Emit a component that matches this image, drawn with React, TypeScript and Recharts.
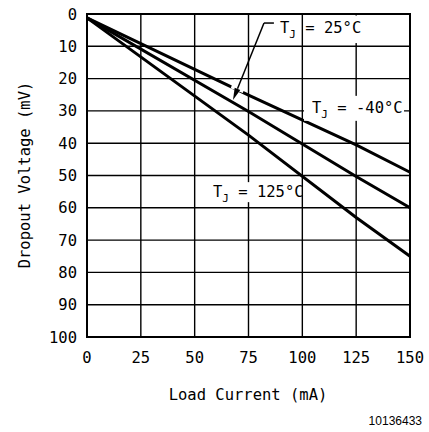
import React from 'react';
import {
  LineChart,
  Line,
  XAxis,
  YAxis,
  CartesianGrid,
  ReferenceArea,
  ReferenceLine,
  ReferenceDot,
} from 'recharts';

// load current (mA) where the curves were read
const current = [0, 75, 125, 150];
// dropout voltage (mV) per junction temperature
const vMinus40 = [1.2, 25.1, 40.5, 49];
const v25 = [1.2, 30.2, 50.3, 60];
const v125 = [1.2, 37.5, 63, 75];

const xTicks = [0, 25, 50, 75, 100, 125, 150];
const yTicks = [0, 10, 20, 30, 40, 50, 60, 70, 80, 90, 100];

const data = current.map((c, i) => ({
  current: c,
  m40: vMinus40[i],
  t25: v25[i],
  t125: v125[i],
}));

const FONT = '"DejaVu Sans Mono", monospace';
const INK = '#000';

// box = white backing [dx0, dy0, dx1, dy1] relative to the text anchor
const TempLabel = ({ cx, cy, temp, box }: any) => (
  <g>
    <rect x={cx + box[0]} y={cy + box[1]} width={box[2] - box[0]} height={box[3] - box[1]} fill="#fff" />
    <text x={cx} y={cy} fontFamily={FONT} fontSize={15.5} fill={INK}>
      T
      <tspan dy={5} fontSize={11}>J</tspan>
      <tspan dy={-5}>{` = ${temp}°C`}</tspan>
    </text>
  </g>
);

const Arrow = ({ x1, y1, x2, y2 }: any) => {
  const dx = x2 - x1;
  const dy = y2 - y1;
  const len = Math.sqrt(dx * dx + dy * dy) || 1;
  const ux = dx / len;
  const uy = dy / len;
  const head = 12;
  const bx = x2 - ux * head;
  const by = y2 - uy * head;
  const px = -uy * 3;
  const py = ux * 3;
  const a = 0.76;
  const b = 0.88;
  return (
    <g>
      <line
        x1={x1 + dx * a}
        y1={y1 + dy * a}
        x2={x1 + dx * b}
        y2={y1 + dy * b}
        stroke="#fff"
        strokeWidth={13}
      />
      <line x1={x1} y1={y1} x2={bx} y2={by} stroke={INK} strokeWidth={1.5} />
      <polygon
        points={`${x2},${y2} ${bx + px},${by + py} ${bx - px},${by - py}`}
        fill={INK}
      />
    </g>
  );
};

export default function App() {
  return (
    <div style={{ position: 'fixed', left: 0, top: 0, width: 429, height: 432, background: '#fff' }}>
      <LineChart
        width={429}
        height={432}
        data={data}
        margin={{ top: 14, right: 19, bottom: 65, left: 27 }}
      >
        <CartesianGrid stroke={INK} strokeWidth={1.4} strokeOpacity={1} />
        <XAxis
          dataKey="current"
          type="number"
          domain={[0, 150]}
          ticks={xTicks}
          tickLine={false}
          axisLine={false}
          tickMargin={9}
          interval={0}
          tick={{ fill: INK, fontFamily: FONT, fontSize: 15.5 }}
        />
        <YAxis
          type="number"
          domain={[0, 100]}
          reversed
          ticks={yTicks}
          width={60}
          tickLine={false}
          axisLine={false}
          tickMargin={4}
          interval={0}
          tick={{ fill: INK, fontFamily: FONT, fontSize: 15.5 }}
        />
        <Line dataKey="m40" stroke={INK} strokeWidth={3} dot={false} isAnimationActive={false} />
        <Line dataKey="t25" stroke={INK} strokeWidth={3} dot={false} isAnimationActive={false} />
        <Line dataKey="t125" stroke={INK} strokeWidth={3} dot={false} isAnimationActive={false} />
        <ReferenceLine
          segment={[{ x: 82.2, y: 2.8 }, { x: 67.8, y: 26.6 }]}
          shape={(p: any) => <Arrow {...p} />}
        />
        <ReferenceLine
          segment={[{ x: 82.2, y: 2.8 }, { x: 86.8, y: 2.8 }]}
          stroke={INK}
          strokeWidth={1.5}
        />
        <ReferenceDot
          x={89.6}
          y={5.9}
          r={0}
          shape={(p: any) => <TempLabel {...p} temp="25" box={[26, -17.5, 92, 10]} />}
        />
        <ReferenceDot
          x={104.5}
          y={30.6}
          r={0}
          shape={(p: any) => <TempLabel {...p} temp="-40" box={[-8, -17, 92, 8]} />}
        />
        <ReferenceDot
          x={58.5}
          y={56.7}
          r={0}
          shape={(p: any) => <TempLabel {...p} temp="125" box={[-3, -15, 85, 5]} />}
        />
        <ReferenceArea x1={0} x2={150} y1={0} y2={100} fill="none" stroke={INK} strokeWidth={2} />
      </LineChart>
      <div
        style={{
          position: 'absolute',
          left: 25,
          top: 175,
          transform: 'translate(-50%, -50%) rotate(-90deg)',
          fontFamily: FONT,
          fontSize: 15.5,
          whiteSpace: 'nowrap',
          color: INK,
        }}
      >
        Dropout Voltage (mV)
      </div>
      <div
        style={{
          position: 'absolute',
          left: 248,
          top: 395,
          transform: 'translate(-50%, -50%)',
          fontFamily: FONT,
          fontSize: 15.5,
          whiteSpace: 'nowrap',
          color: INK,
        }}
      >
        Load Current (mA)
      </div>
      <div
        style={{
          position: 'absolute',
          right: 7,
          top: 414,
          fontFamily: '"Liberation Sans", Arial, sans-serif',
          fontSize: 12,
          color: INK,
        }}
      >
        10136433
      </div>
    </div>
  );
}
